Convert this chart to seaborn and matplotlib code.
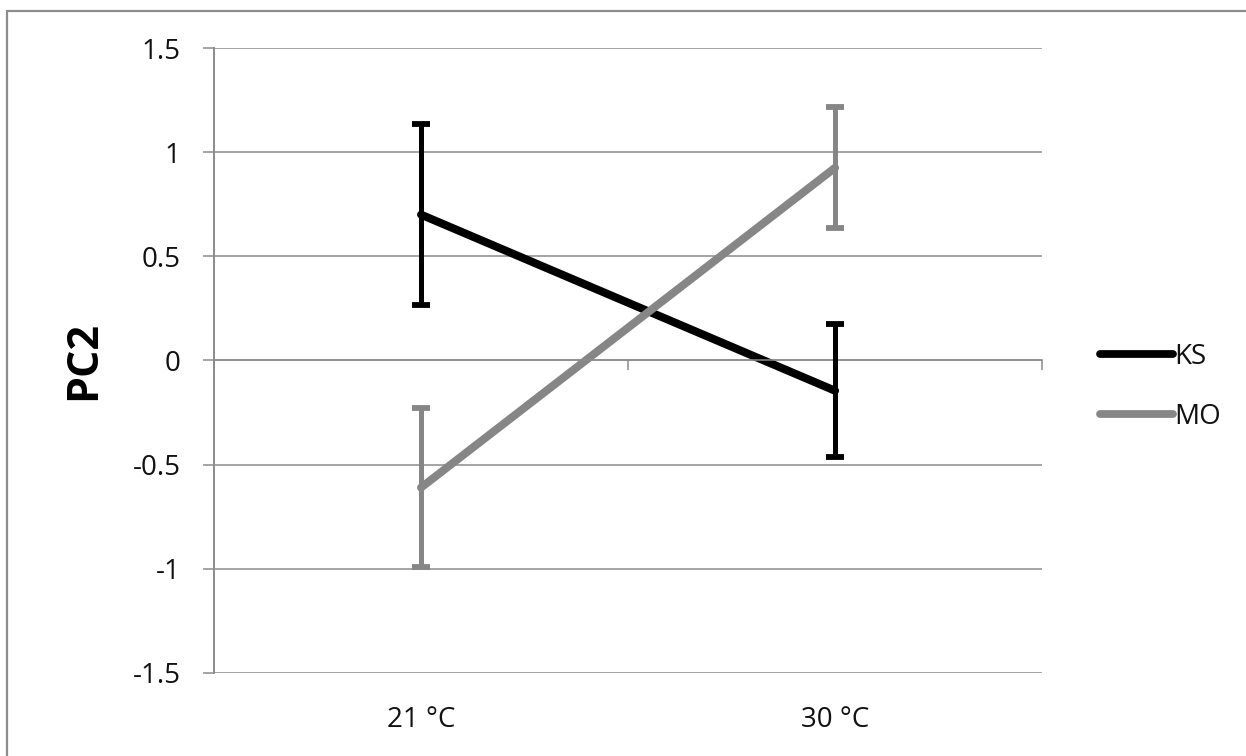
import matplotlib
matplotlib.use("Agg")
import matplotlib.pyplot as plt
from matplotlib.patches import Rectangle
import seaborn as sns
import pandas as pd

# Mean PC2 scores per temperature, with error bar half-widths
temperatures = ["21 °C", "30 °C"]
ks_mean = [0.70, -0.145]
ks_err = [0.435, 0.32]
mo_mean = [-0.61, 0.925]
mo_err = [0.38, 0.29]
groups = ["KS", "MO"]
colors = {"KS": "#000000", "MO": "#868686"}
y_ticks = [-1.5, -1, -0.5, 0, 0.5, 1, 1.5]
y_tick_labels = ["-1.5", "-1", "-0.5", "0", "0.5", "1", "1.5"]

df = pd.DataFrame({
    "temp": temperatures * 2,
    "group": ["KS"] * 2 + ["MO"] * 2,
    "pc2": ks_mean + mo_mean,
    "err": ks_err + mo_err,
})

sns.set_theme(style="white")
plt.rcParams["font.family"] = ["Open Sans", "DejaVu Sans"]

fig = plt.figure(figsize=(12.46, 7.56), dpi=100)
ax = fig.add_axes([0.1718, 0.1098, 0.8363 - 0.1718, 0.9365 - 0.1098])

grid_col = "#8c8c8c"
text_col = "#111111"
ax.set_ylim(-1.5, 1.5)
ax.set_xlim(-0.5, 1.5)
ax.set_yticks(y_ticks)
ax.set_yticklabels(y_tick_labels)
ax.yaxis.grid(True, color=grid_col, linewidth=1.1)
ax.set_axisbelow(True)

sns.lineplot(data=df, x="temp", y="pc2", hue="group", hue_order=groups,
             palette=colors, linewidth=5.8, ax=ax, legend=True,
             solid_capstyle="round", sort=False)

for g in groups:
    sub = df[df["group"] == g]
    pos = [temperatures.index(t) for t in sub["temp"]]
    ax.errorbar(pos, sub["pc2"], yerr=sub["err"], fmt="none",
                ecolor=colors[g], elinewidth=3.6, capsize=6.5,
                capthick=4.2, zorder=3)

# Horizontal axis crosses at zero, tick marks on category boundaries
for s in ["top", "right"]:
    ax.spines[s].set_visible(False)
ax.spines["bottom"].set_position(("data", 0))
ax.spines["bottom"].set_color(grid_col)
ax.spines["bottom"].set_linewidth(1.1)
ax.spines["left"].set_color(grid_col)
ax.spines["left"].set_linewidth(1.4)
ax.set_xticks([-0.5, 0.5, 1.5])
ax.set_xticklabels([])
ax.tick_params(axis="x", direction="out", length=7, width=1.1,
               color=grid_col, bottom=True)
ax.tick_params(axis="y", direction="out", length=8, width=1.1,
               color=grid_col, left=True, labelsize=20, pad=16,
               labelcolor=text_col)

# Category labels along the bottom of the plot area
sec = ax.secondary_xaxis(0.0)
sec.set_xticks(range(len(temperatures)))
sec.set_xticklabels(temperatures)
sec.tick_params(length=0, labelsize=20, pad=24, labelcolor=text_col)
sec.spines["bottom"].set_visible(False)

ax.set_xlabel("")
ax.set_ylabel("PC2", fontsize=31, fontweight="bold", labelpad=20,
              color="#000000")

leg = ax.legend(loc="center left", bbox_to_anchor=(0.872, 0.488),
                bbox_transform=fig.transFigure, frameon=False,
                fontsize=20, handlelength=2.6, handletextpad=0.05,
                labelspacing=1.15, borderpad=0)
for h in leg.get_lines():
    h.set_linewidth(5.6)
    h.set_solid_capstyle("round")
for t in leg.get_texts():
    t.set_color(text_col)

# Chart border
fig.patches.append(Rectangle((0.0056, -0.05), 1.2, 1.0354,
                             transform=fig.transFigure, fill=False,
                             edgecolor="#8c8c8c", linewidth=1.6))

fig.savefig("out.png", dpi=100)
